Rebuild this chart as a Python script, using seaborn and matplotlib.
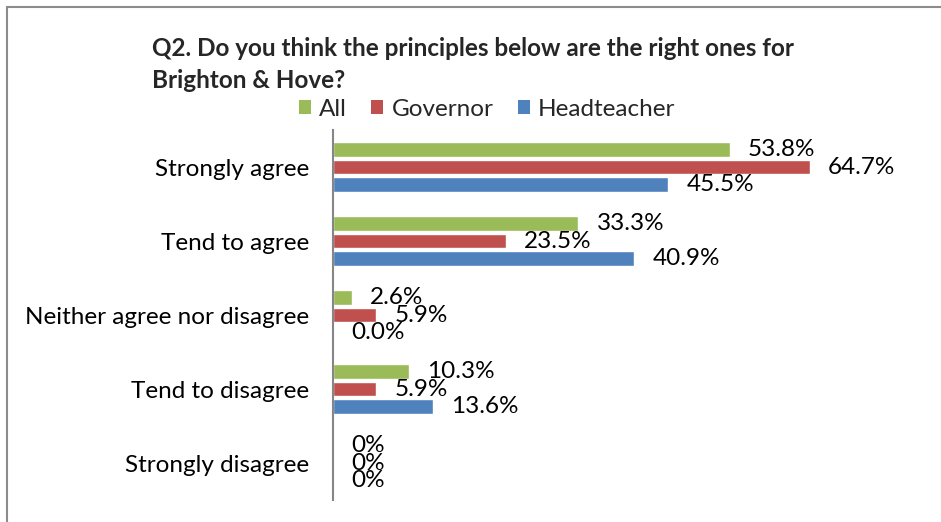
import numpy as np
import pandas as pd
import seaborn as sns
import matplotlib.pyplot as plt
from matplotlib.patches import Patch
from matplotlib.lines import Line2D

# Survey responses (percent of respondents)
categories = ["Strongly agree", "Tend to agree", "Neither agree nor disagree",
              "Tend to disagree", "Strongly disagree"]
groups = ["All", "Governor", "Headteacher"]
all_pct = [53.8, 33.3, 2.6, 10.3, 0.0]
governor_pct = [64.7, 23.5, 5.9, 5.9, 0.0]
headteacher_pct = [45.5, 40.9, 0.0, 13.6, 0.0]
all_labels = ["53.8%", "33.3%", "2.6%", "10.3%", "0%"]
governor_labels = ["64.7%", "23.5%", "5.9%", "5.9%", "0%"]
headteacher_labels = ["45.5%", "40.9%", "0.0%", "13.6%", "0%"]

title_lines = ["Q2. Do you think the principles below are the right ones for",
               "Brighton & Hove?"]
colors = ["#9BBB59", "#C0504D", "#4F81BD"]

df = pd.DataFrame({
    "category": categories * 3,
    "group": np.repeat(groups, len(categories)),
    "pct": all_pct + governor_pct + headteacher_pct,
})

sns.set_theme(style="white")
plt.rcParams["font.family"] = ["Lato", "DejaVu Sans"]

FS = 17.5
W, H = 941, 522
fig = plt.figure(figsize=(W / 100, H / 100), dpi=100)
fig.patch.set_facecolor("white")

ax = fig.add_axes([333 / W, (H - 500) / H, (849 - 333) / W, 370 / H])
sns.barplot(data=df, y="category", x="pct", hue="group", order=categories,
            hue_order=groups, palette=colors, orient="h", width=0.70, gap=0.16,
            saturation=1, legend=False, ax=ax)

ax.set_xlim(0, 70)
ax.set_ylim(4.5, -0.5)
ax.set_xlabel("")
ax.set_ylabel("")
ax.set_xticks([])
for s in ["top", "right", "bottom"]:
    ax.spines[s].set_visible(False)
ax.spines["left"].set_color("#868686")
ax.spines["left"].set_linewidth(1.5)
ax.tick_params(axis="y", length=0, pad=17, labelsize=FS, labelcolor="black")
ax.set_facecolor("none")

for cont, labs in zip(ax.containers, [all_labels, governor_labels, headteacher_labels]):
    ax.bar_label(cont, labels=labs, padding=13, fontsize=FS, color="black")

# Title and legend
fig.text(152 / W, 1 - 56 / H, title_lines[0], fontsize=FS, fontweight="bold",
         ha="left", va="baseline")
fig.text(152 / W, 1 - 88 / H, title_lines[1], fontsize=FS, fontweight="bold",
         ha="left", va="baseline")
handles = [Patch(facecolor=c, edgecolor="none", label=g) for c, g in zip(colors, groups)]
fig.legend(handles=handles, loc="center", bbox_to_anchor=(487 / W, 1 - 109 / H),
           ncol=3, frameon=False, fontsize=FS, handlelength=0.5, handleheight=0.5,
           handletextpad=0.33, columnspacing=1.0, borderaxespad=0)

# Outer frame
fig.add_artist(Line2D([7 / W, 1], [1 - 7 / H, 1 - 7 / H], transform=fig.transFigure,
                      color="#8C8C8C", linewidth=1.5))
fig.add_artist(Line2D([7 / W, 7 / W], [0, 1 - 7 / H], transform=fig.transFigure,
                      color="#8C8C8C", linewidth=1.5))

fig.savefig("out.png", dpi=100)
